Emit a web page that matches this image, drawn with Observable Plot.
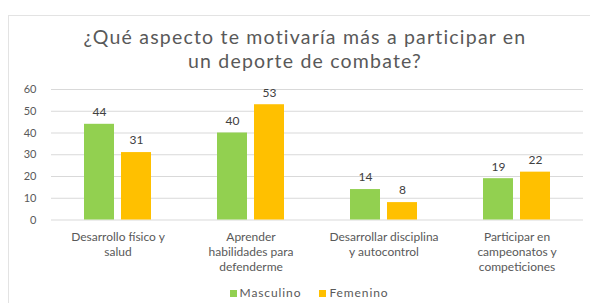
<!DOCTYPE html>
<html>
<head>
<meta charset="utf-8">
<script src="https://cdn.jsdelivr.net/npm/d3@7"></script>
<script src="https://cdn.jsdelivr.net/npm/@observablehq/plot@0.6"></script>
<style>
  html, body { margin: 0; padding: 0; background: #fff; }
  #wrap { position: relative; width: 590px; height: 303px; overflow: hidden; font-family: Lato, "Open Sans", sans-serif; }
  #frame { position: absolute; left: 8px; top: 15px; width: 600px; height: 300px; border: 1px solid #e3e3e3; box-sizing: border-box; }
  #title { position: absolute; left: 8px; width: 594px; top: 25px; text-align: center; font-size: 19.5px; letter-spacing: 1.2px; line-height: 24px; color: #595959; }
  #chart { position: absolute; left: 0; top: 0; }
  #legend { position: absolute; left: 0; width: 618px; top: 285px; text-align: center; font-size: 12px; letter-spacing: 0.9px; color: #595959; }
  #legend span.sw { display: inline-block; width: 7px; height: 7px; margin-right: 3px; vertical-align: 0px; }
  #legend span.item { margin: 0 9px; }
</style>
</head>
<body>
<div id="wrap">
  <div id="frame"></div>
  <div id="chart"></div>
  <div id="title">¿Qué aspecto te motivaría más a participar en<br>un deporte de combate?</div>
  <div id="legend"></div>
</div>
<script>
const categories = [
  "Desarrollo físico y salud",
  "Aprender habilidades para defenderme",
  "Desarrollar disciplina y autocontrol",
  "Participar en campeonatos y competiciones"
];
const categoryLabels = [
  "Desarrollo físico y\nsalud",
  "Aprender\nhabilidades para\ndefenderme",
  "Desarrollar disciplina\ny autocontrol",
  "Participar en\ncampeonatos y\ncompeticiones"
];
const series = ["Masculino", "Femenino"];
const masculino = [44, 40, 14, 19];
const femenino = [31, 53, 8, 22];
const colors = ["#92d050", "#ffc000"];
const yTicks = [0, 10, 20, 30, 40, 50, 60];

const data = [];
categories.forEach((c, i) => {
  data.push({cat: c, serie: series[0], value: masculino[i]});
  data.push({cat: c, serie: series[1], value: femenino[i]});
});
const labelOf = new Map(categories.map((c, i) => [c, categoryLabels[i]]));

const chart = Plot.plot({
  width: 590,
  height: 303,
  marginLeft: 50,
  marginRight: 6,
  marginTop: 89,
  marginBottom: 83.5,
  style: {fontFamily: "Lato, 'Open Sans', sans-serif", background: "transparent"},
  fx: {domain: categories, padding: 0, axis: null},
  x: {domain: series, paddingInner: 0.19, paddingOuter: 0.88, axis: null},
  y: {domain: [0, 60], axis: null},
  color: {domain: series, range: colors},
  marks: [
    Plot.gridY(yTicks, {stroke: "#d9d9d9", strokeOpacity: 1}),
    Plot.axisY(yTicks, {anchor: "left", tickSize: 0, tickPadding: 15, fontSize: 11, letterSpacing: "0.5px", fill: "#595959", label: null}),
    Plot.barY(data, {fx: "cat", x: "serie", y: "value", fill: "serie"}),
    Plot.text(data, {fx: "cat", x: "serie", y: "value", text: d => String(d.value), dy: -12, fontSize: 12, letterSpacing: "0.8px", fill: "#404040"}),
    Plot.axisFx({anchor: "bottom", tickSize: 0, tickPadding: 10, fontSize: 12, lineHeight: 1.25, letterSpacing: "0.8px", fill: "#595959", tickFormat: d => labelOf.get(d), label: null})
  ]
});
document.getElementById("chart").appendChild(chart);

const legend = document.getElementById("legend");
series.forEach((s, i) => {
  const item = document.createElement("span");
  item.className = "item";
  const sw = document.createElement("span");
  sw.className = "sw";
  sw.style.background = colors[i];
  item.appendChild(sw);
  item.appendChild(document.createTextNode(s));
  legend.appendChild(item);
});
</script>
</body>
</html>
